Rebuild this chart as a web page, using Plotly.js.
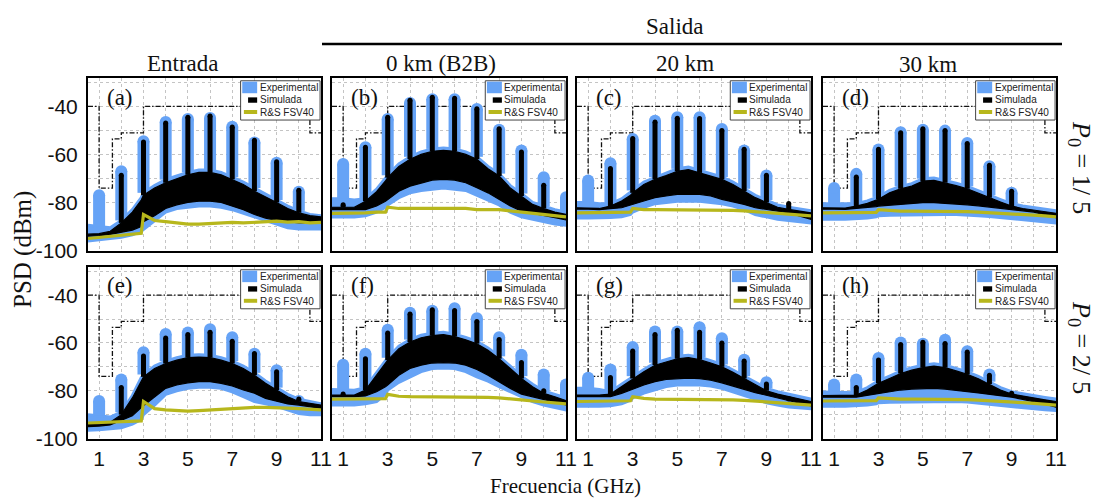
<!DOCTYPE html>
<html><head><meta charset="utf-8">
<script src="https://cdn.plot.ly/plotly-3.0.1.min.js"></script>
<style>html,body{margin:0;padding:0;background:#fff}#chart{width:1101px;height:499px}</style>
</head><body><div id="chart"></div>
<script>
// ---------- shared axes data ----------
const freq = [0.5,1,1.5,2,2.5,2.9,3,3.5,4,4.5,5,5.5,6,6.5,7,7.5,8,8.5,9,9.5,10,10.5,11];
const tones = [1,2,3,4,5,6,7,8,9,10,11];
const maskFreq  = [0.5,1.0,1.0,1.6,1.6,2.0,2.0,3.0,3.0,10.5,10.5,11];
const maskLevel = [-40,-40,-74,-74,-53.5,-53.5,-51,-51,-40,-40,-51,-51];
const xTickVals = [1,2,3,4,5,6,7,8,9,10,11];
const xTickText = ['1',' ','3',' ','5',' ','7',' ','9',' ','11'];
const yTickVals = [-100,-90,-80,-70,-60,-50,-40,-30];
const yTickText = ['-100',' ','-80',' ','-60',' ','-40',' '];
const panelLabels = ['(a)','(b)','(c)','(d)','(e)','(f)','(g)','(h)'];
const legendNames = ['Experimental','Simulada','R&S FSV40'];

// ---------- (a) Entrada, P0=1/5 ----------
const aExpHi = [-89.5,-90,-90.5,-87.5,-83,-78,-76,-73,-70.5,-69,-67.5,-66.5,-66.5,-67.5,-69.5,-71.5,-74,-76.5,-79,-81.5,-83.5,-85,-85.5];
const aExpLo = [-96,-95.5,-95,-94.5,-93.5,-92,-91,-87.5,-84,-82.5,-82,-81.5,-81.5,-82,-83,-84.5,-86,-87.5,-89,-90.5,-91,-91,-91];
const aSimHi = [-93.2,-93,-92,-88.5,-84,-79,-77,-74,-71.8,-70,-68.5,-67.5,-67.5,-68.5,-70.4,-72.5,-75.3,-77.5,-80,-82.5,-84.3,-85.5,-86];
const aSimLo = [-94,-93.8,-93.3,-92.5,-91.5,-90,-88,-85.5,-82.5,-81,-80,-79.5,-79.5,-80,-81.5,-83,-85,-86.5,-87.5,-88,-88.5,-88.5,-88.5];
const aRS    = [-95,-94.5,-94,-93.8,-93.2,-92.8,-85,-87.5,-88,-88.5,-89,-89,-88.8,-88.5,-88.3,-88.5,-88.2,-87.8,-87.8,-88.2,-88,-88.5,-88.3];
const aExpPeak = [-77,-67,-54.5,-46.5,-45.3,-44.8,-48.5,-55,-63.5,-75.5,null];
const aSimPeak = [null,-68.7,-54.8,-46.9,-44.5,-44,-48.6,-54.1,-63.1,-74.9,null];

// ---------- (b) 0 km, P0=1/5 ----------
const bExpHi = [-78.5,-78.5,-79,-78.5,-74.5,-70,-68.7,-64,-61,-59,-57.7,-57.3,-57.7,-59,-61,-65,-68,-73,-76.3,-80,-81.5,-83,-84];
const bExpLo = [-86,-86,-86,-85.5,-84,-82,-81,-78,-76,-75,-74.5,-74,-74.5,-75,-77,-79,-81,-84,-86,-87,-88,-89,-89.5];
const bSimHi = [-82,-82,-82,-79.5,-75.5,-71,-69.7,-65,-62,-60,-58.7,-58.3,-58.7,-60,-62,-66,-69,-74,-77.3,-80.8,-82.5,-84,-85];
const bSimLo = [-83,-83,-83,-83,-81.5,-79.5,-78.7,-75.3,-73.2,-71.8,-70.7,-70.4,-70.7,-71.8,-73.9,-76,-78.7,-81.5,-83.6,-84.5,-85.5,-86.3,-87.3];
const bRS    = [-84.5,-84.5,-84.3,-84.3,-84,-84,-82,-82.5,-82.5,-82.5,-82.5,-82.5,-82.5,-82.5,-83,-83,-83,-83.5,-84,-84.5,-85,-85.5,-86];
const bExpPeak = [-64,-57,-45.3,-38.6,-37,-37,-41.1,-49.7,-58.4,-69.5,-77.8];
const bSimPeak = [-81,-57,-44.5,-37.5,-36.2,-36.6,-41,-49.3,-59,-72.8,null];

// ---------- (c) 20 km, P0=1/5 ----------
const cExpHi = [-80,-80,-80.5,-80.5,-78.5,-76,-75,-71.5,-69.5,-67.8,-66,-65.3,-66.7,-68,-69.4,-71.5,-74.3,-77,-79,-81,-82,-82.8,-83.5];
const cExpLo = [-86.5,-86.5,-86.5,-86.3,-86,-85,-84,-82,-80.5,-80,-79.5,-79.5,-79.5,-80,-80.5,-81.5,-83,-85,-86,-87,-87.5,-88,-88.5];
const cSimHi = [-82.2,-82.2,-82.5,-81.5,-79.4,-77,-76,-72.5,-70.4,-68.8,-67,-66.3,-67.7,-69,-70.4,-72.5,-75.3,-78,-80,-82,-82.9,-83.6,-84.3];
const cSimLo = [-82.8,-82.8,-83,-82.6,-82.2,-81.2,-80.8,-79.4,-78,-77.3,-76.6,-76.6,-76.6,-77.3,-78.7,-79.8,-80.8,-82.2,-82.9,-83.6,-84.3,-85.6,-87];
const cRS    = [-84.3,-84.3,-84.3,-84.2,-84,-84,-82.5,-83,-83,-83,-83,-83,-83,-83,-83.2,-83.3,-83.5,-83.8,-84.3,-84.6,-85,-85.3,-85.6];
const cExpPeak = [-70.9,-63.7,-53.6,-46,-44.5,-44.5,-49.4,-58.4,-68.8,null,null];
const cSimPeak = [null,-65.9,-53.4,-46.5,-44.9,-45.1,-50,-57.9,-68.7,-80.4,null];

// ---------- (d) 30 km, P0=1/5 ----------
const dExpHi = [-80.5,-80.5,-80.8,-80.5,-79.4,-78,-77.7,-75,-73.3,-72.2,-70.1,-69.8,-70.8,-72,-73.3,-75,-77,-78.8,-80.5,-81.5,-82.2,-82.6,-83.5];
const dExpLo = [-87,-87,-87,-86.8,-86.5,-86,-85.5,-85.3,-85,-85,-85,-85,-85,-85,-85.2,-85.5,-85.8,-86.2,-86.6,-87,-87.5,-88,-88.5];
const dSimHi = [-82.2,-82.2,-82.3,-81.5,-80.4,-79,-78.7,-76,-74.3,-73.2,-71.1,-70.8,-71.8,-73,-74.3,-76,-78,-79.8,-81.5,-82.5,-83.2,-83.6,-84.5];
const dSimLo = [-82.8,-82.8,-82.9,-82.6,-82,-81.7,-81.5,-81.2,-80.8,-80.4,-80.1,-80.1,-80.3,-80.6,-81,-81.4,-81.8,-82.3,-82.9,-83.5,-84,-85,-86.3];
const dRS    = [-84.3,-84.3,-84.3,-84.2,-84.2,-84.1,-83,-83.4,-83.6,-83.6,-83.6,-83.6,-83.6,-83.6,-83.8,-84,-84.2,-84.5,-84.8,-85,-85.3,-85.6,-86];
const dExpPeak = [-74,-68.1,-58,-50.8,-49.7,-50.1,-55.2,-64.9,-76,null,null];
const dSimPeak = [null,-69.4,-57.9,-51,-49.3,-50,-55.5,-64.5,-75.3,null,null];

// ---------- (e) Entrada, P0=2/5 ----------
const eExpHi = [-90,-90.5,-91,-89,-82,-74.5,-73.2,-69.7,-67.6,-66.2,-65.1,-64.9,-65.1,-66.2,-67.6,-69.7,-72.5,-75.9,-78.7,-81.5,-83.5,-84.5,-85.5];
const eExpLo = [-96.5,-96.3,-96,-95.5,-94,-92,-90,-86,-81.5,-80,-79,-78.5,-78.5,-79,-80.5,-82.5,-84.5,-85.5,-86.5,-88,-89.5,-90,-90];
const eSimHi = [-94.2,-94,-93.2,-90,-83,-76,-74.2,-70.7,-68.6,-67.2,-66.1,-65.9,-66.1,-67.2,-68.6,-70.7,-73.5,-76.9,-79.7,-82.5,-84.5,-85.2,-86];
const eSimLo = [-95,-94.8,-94.3,-92.5,-90.5,-87,-86,-82.5,-79,-77.6,-76.7,-76.2,-76.2,-76.9,-78,-79.7,-81,-83.2,-84.5,-85.5,-86,-86.6,-87.4];
const eRS    = [-93.5,-93.3,-93.2,-93,-92.8,-92.6,-84.5,-87.5,-88,-88.3,-88.5,-88.3,-88,-87.8,-87.5,-87.3,-87,-87,-87,-87.3,-87.5,-87.8,-88];
const eExpPeak = [-84.3,-75.3,-63.9,-56.2,-55.6,-54.3,-57.6,-64.5,-71.4,-84.3,null];
const eSimPeak = [null,-78.6,-65.5,-57.9,-56.5,-55.5,-59.3,-64.4,-72.1,-83.5,null];

// ---------- (f) 0 km, P0=2/5 ----------
const fExpHi = [-79.5,-79.5,-79.8,-78.7,-72.5,-67.5,-66.2,-61.4,-58.6,-56.8,-55.9,-55.5,-56.3,-57.7,-59.3,-62.1,-65.6,-69.7,-73.9,-77.3,-80.1,-81.5,-83];
const fExpLo = [-86,-86,-86,-85.5,-84.5,-81.5,-79.7,-76.5,-74.2,-72,-70.7,-70.5,-70.7,-72,-74.2,-76,-78.3,-80.5,-82.5,-84.5,-86,-87,-88];
const fSimHi = [-81.8,-81.8,-81.8,-79.7,-73.5,-68.5,-67.2,-62.4,-59.6,-57.8,-56.9,-56.5,-57.3,-58.7,-60.3,-63.1,-66.6,-70.7,-74.9,-78.3,-81.1,-82.5,-84.1];
const fSimLo = [-82.5,-82.5,-82.5,-82.2,-80.4,-78.3,-77.6,-73.5,-70.7,-69.3,-68.4,-68.2,-68.4,-69.3,-71.1,-73.5,-76.2,-79,-81.4,-82.8,-83.8,-84.8,-85.9];
const fRS    = [-83.5,-83.5,-83.5,-83.4,-83.4,-83.3,-81.5,-82.3,-82.5,-82.5,-82.5,-82.5,-82.5,-82.5,-82.7,-82.8,-83,-83.3,-83.8,-84.3,-84.8,-85.2,-85.5];
const fExpPeak = [-69.1,-64.5,-54.5,-47.3,-46.5,-45.5,-49.7,-57.6,-64.9,-73.2,-77.4];
const fSimPeak = [-81.4,-66.6,-55.8,-47.9,-46.1,-46.4,-51,-58.6,-68.2,-80,null];

// ---------- (g) 20 km, P0=2/5 ----------
const gExpHi = [-79,-79,-79.5,-80.4,-77.3,-74.8,-73.9,-71.1,-68.3,-66.9,-65.6,-65.1,-66,-67.4,-69,-71.3,-73.9,-76.6,-79,-80.4,-81.5,-82.6,-83.5];
const gExpLo = [-86.5,-86.5,-86.5,-86.3,-85.5,-84,-83,-81,-79.5,-78.2,-77.6,-77.6,-77.6,-78,-79,-80.5,-82,-83.5,-85,-86,-86.8,-87.2,-87.5];
const gSimHi = [-81.8,-81.8,-81.8,-81.4,-78.3,-75.8,-74.9,-72.1,-69.3,-67.9,-66.6,-66.1,-67,-68.4,-70,-72.3,-74.9,-77.6,-80,-81.4,-82.5,-83.6,-84.5];
const gSimLo = [-82.5,-82.5,-82.5,-82.5,-81.1,-79.8,-79.4,-77.6,-76.2,-75.3,-74.9,-74.7,-74.9,-75.6,-76.7,-78,-79.4,-80.8,-82.2,-83.2,-84.1,-85.2,-86.3];
const gRS    = [-84.5,-84.5,-84.5,-84.4,-84.3,-84.2,-82.5,-83.2,-83.5,-83.5,-83.5,-83.5,-83.5,-83.5,-83.6,-83.8,-84,-84.3,-84.6,-85,-85.3,-85.6,-86];
const gExpPeak = [-74.6,-71.1,-61.7,-55.2,-55.2,-53.4,-58,-67,-76.4,null,null];
const gSimPeak = [null,-74.5,-63.4,-56.5,-54.7,-55.5,-60,-67.6,-77.2,-83.5,null];

// ---------- (h) 30 km, P0=2/5 ----------
const hExpHi = [-80.5,-80.5,-80.8,-80.8,-78.7,-76.5,-75.9,-73.9,-71.8,-70.4,-69.3,-68.7,-69.3,-70.7,-72.1,-74,-76.2,-78.7,-80.4,-81.3,-82.2,-82.8,-83.5];
const hExpLo = [-86.5,-86.5,-86.5,-86.3,-86,-85.5,-85,-84.8,-84.5,-84.5,-84.5,-84.5,-84.5,-84.5,-84.7,-85,-85.5,-86,-86.5,-87,-87.5,-88,-88.3];
const hSimHi = [-82,-82,-82,-81.8,-79.7,-77.5,-76.9,-74.9,-72.8,-71.4,-70.3,-69.7,-70.3,-71.7,-73.1,-75,-77.2,-79.7,-81.4,-82.3,-83.2,-83.8,-84.5];
const hSimLo = [-82.7,-82.7,-82.7,-82.7,-82,-81.4,-81.1,-80.5,-79.7,-79.3,-79,-79,-79.3,-79.7,-80.4,-80.9,-81.4,-82,-82.7,-83.6,-84.5,-85.6,-86.9];
const hRS    = [-84.3,-84.3,-84.3,-84.2,-84.2,-84.1,-83,-83.4,-83.5,-83.5,-83.5,-83.5,-83.5,-83.5,-83.7,-83.9,-84.1,-84.4,-84.7,-85,-85.3,-85.6,-86];
const hExpPeak = [-77.4,-75.3,-66.3,-59.8,-60.3,-58.7,-63.5,-73.2,null,null,null];
const hSimPeak = [null,-78.6,-67.1,-60.6,-59.7,-60.2,-63.8,-73.5,-81,null,null];

// ---------- build ----------
const panels = [
  [aExpHi,aExpLo,aSimHi,aSimLo,aRS,aExpPeak,aSimPeak],
  [bExpHi,bExpLo,bSimHi,bSimLo,bRS,bExpPeak,bSimPeak],
  [cExpHi,cExpLo,cSimHi,cSimLo,cRS,cExpPeak,cSimPeak],
  [dExpHi,dExpLo,dSimHi,dSimLo,dRS,dExpPeak,dSimPeak],
  [eExpHi,eExpLo,eSimHi,eSimLo,eRS,eExpPeak,eSimPeak],
  [fExpHi,fExpLo,fSimHi,fSimLo,fRS,fExpPeak,fSimPeak],
  [gExpHi,gExpLo,gSimHi,gSimLo,gRS,gExpPeak,gSimPeak],
  [hExpHi,hExpLo,hSimHi,hSimLo,hRS,hExpPeak,hSimPeak]
];

const BLUE = '#66a3f6', OLIVE = '#b7b71c', SERIF = '"Liberation Serif","Times New Roman",serif', SANS = '"Liberation Sans",Arial,sans-serif';
const colDom = [[88/1101,321/1101],[332/1101,566/1101],[577/1101,811/1101],[823/1101,1056/1101]];
const rowDom = [[1-251/499,1-78/499],[1-439/499,1-267/499]];

const traces = [], shapes = [], annotations = [];
const layout = {
  width:1101, height:499, margin:{l:0,r:0,t:0,b:0}, showlegend:false,
  paper_bgcolor:'#fff', plot_bgcolor:'#fff'
};

panels.forEach((p,i)=>{
  const [expHi,expLo,simHi,simLo,rs,expPeak,simPeak] = p;
  const n = i===0 ? '' : String(i+1);
  const xa = 'x'+n, ya = 'y'+n;
  const col = i%4, row = Math.floor(i/4);
  const grid = {showgrid:true, gridcolor:'#c4c4c4', griddash:'dot', gridwidth:1,
    showline:true, mirror:true, linecolor:'#000', linewidth:2, zeroline:false, ticks:'',
    tickfont:{family:SANS, size:21, color:'#111'}, fixedrange:true};
  layout['xaxis'+n] = Object.assign({}, grid, {domain:colDom[col], anchor:ya, range:[0.5,11],
    tickmode:'array', tickvals:xTickVals, ticktext:xTickText, showticklabels: row===1});
  layout['yaxis'+n] = Object.assign({}, grid, {domain:rowDom[row], anchor:xa, range:[-100.2,-28.2],
    tickmode:'array', tickvals:yTickVals, ticktext:yTickText, showticklabels: col===0, ticklabelstandoff:4});

  const common = {xaxis:xa, yaxis:ya, hoverinfo:'skip', showlegend:false};
  // mask
  traces.push(Object.assign({type:'scatter', mode:'lines', x:maskFreq, y:maskLevel,
    line:{color:'#111', width:1.3, dash:'5px,2px,1.5px,2px'}}, common));
  // experimental band
  traces.push(Object.assign({type:'scatter', mode:'lines', x:freq.concat(freq.slice().reverse()),
    y:expHi.concat(expLo.slice().reverse()), fill:'toself', fillcolor:BLUE,
    line:{color:BLUE, width:3}}, common));
  // experimental tones
  const ex=[], ey=[], mx=[], my=[];
  tones.forEach((f,k)=>{ if(expPeak[k]!==null){ const j=freq.indexOf(f);
    ex.push(f,f,null); ey.push(expHi[j],expPeak[k],null); mx.push(f); my.push(expPeak[k]); }});
  traces.push(Object.assign({type:'scatter', mode:'lines', x:ex, y:ey, line:{color:BLUE, width:12}}, common));
  traces.push(Object.assign({type:'scatter', mode:'markers', x:mx, y:my, marker:{color:BLUE, size:12}}, common));
  // simulated band
  traces.push(Object.assign({type:'scatter', mode:'lines', x:freq.concat(freq.slice().reverse()),
    y:simHi.concat(simLo.slice().reverse()), fill:'toself', fillcolor:'#000',
    line:{color:'#000', width:1.2}}, common));
  const sx=[], sy=[], nx=[], ny=[];
  tones.forEach((f,k)=>{ if(simPeak[k]!==null){ const j=freq.indexOf(f);
    sx.push(f,f,null); sy.push(simHi[j],simPeak[k],null); nx.push(f); ny.push(simPeak[k]); }});
  traces.push(Object.assign({type:'scatter', mode:'lines', x:sx, y:sy, line:{color:'#000', width:5}}, common));
  traces.push(Object.assign({type:'scatter', mode:'markers', x:nx, y:ny, marker:{color:'#000', size:5}}, common));
  // R&S FSV40
  traces.push(Object.assign({type:'scatter', mode:'lines', x:freq, y:rs, line:{color:OLIVE, width:3.2}}, common));

  // legend box (drawn as shapes above traces)
  const xr = xa+' domain', yr = ya+' domain';
  shapes.push({type:'rect', xref:xr, yref:yr, x0:0.655, x1:0.996, y0:0.757, y1:0.984, fillcolor:'#fff', line:{color:'#444', width:1}, layer:'above'});
  shapes.push({type:'rect', xref:xr, yref:yr, x0:0.662, x1:0.726, y0:0.912, y1:0.979, fillcolor:BLUE, line:{width:0}, layer:'above'});
  shapes.push({type:'rect', xref:xr, yref:yr, x0:0.687, x1:0.726, y0:0.857, y1:0.888, fillcolor:'#000', line:{width:0}, layer:'above'});
  shapes.push({type:'rect', xref:xr, yref:yr, x0:0.669, x1:0.726, y0:0.792, y1:0.815, fillcolor:OLIVE, line:{width:0}, layer:'above'});
  [0.946,0.873,0.800].forEach((yy,k)=>annotations.push({xref:xr, yref:yr, x:0.728, y:yy, xanchor:'left', yanchor:'middle',
    text:legendNames[k], showarrow:false, font:{family:SANS, size:10, color:'#222'}}));
  // panel label
  annotations.push({xref:xr, yref:yr, x:0.072, y:0.89, xanchor:'left', yanchor:'middle', text:panelLabels[i],
    showarrow:false, font:{family:SERIF, size:23, color:'#111'}});
});

// titles
const T = (text,x,y,size,extra)=>annotations.push(Object.assign({xref:'paper', yref:'paper', x:x/1101, y:1-y/499,
  text:text, showarrow:false, xanchor:'center', yanchor:'middle', font:{family:SERIF, size:size, color:'#111'}}, extra||{}));
T('Entrada',183,63,23);
T('Salida',675,27,23);
T('0 km (B2B)',441,63,23);
T('20 km',685,63,23);
T('30 km',928,64,23);
T('PSD (dBm)',23,250,25,{textangle:-90});
T('Frecuencia (GHz)',565,486,21);
T('<i>P</i><sub>0</sub> = 1/ 5',1080,167,26,{textangle:90});
T('<i>P</i><sub>0</sub> = 2/ 5',1080,347,26,{textangle:90});
shapes.push({type:'line', xref:'paper', yref:'paper', x0:322/1101, x1:1062/1101, y0:1-44/499, y1:1-44/499, line:{color:'#000', width:2.5}});

layout.shapes = shapes;
layout.annotations = annotations;
Plotly.newPlot('chart', traces, layout, {staticPlot:true, displayModeBar:false});
</script>
</body></html>
